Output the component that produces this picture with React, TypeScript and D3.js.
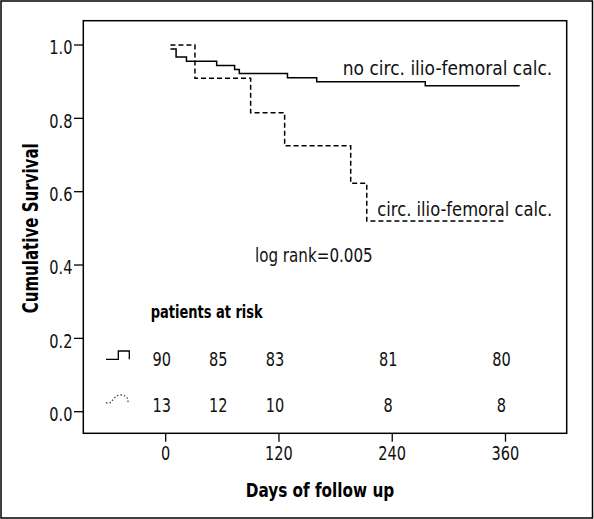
import React from "react";
import * as d3 from "d3";

// ---- data ----
const noCalcTimes = [5, 11, 22, 54, 73, 78, 129, 160, 275];
const noCalcSurv = [0.989, 0.967, 0.956, 0.944, 0.933, 0.922, 0.911, 0.9, 0.889];
const noCalcEnd = 375;

const calcTimes = [5, 31, 90, 126, 196, 213];
const calcSurv = [1.0, 0.909, 0.815, 0.725, 0.623, 0.52];
const calcEnd = 360;

const xTicks = [0, 120, 240, 360];
const yTicks = [0, 0.2, 0.4, 0.6, 0.8, 1.0];

const atRiskDays = [0, 60, 120, 240, 360];
const atRiskNoCalc = [90, 85, 83, 81, 80];
const atRiskCalc = [13, 12, 10, 8, 8];

const labelNoCalc = "no circ. ilio-femoral calc.";
const labelCalc = "circ. ilio-femoral calc.";
const logRankText = "log rank=0.005";
const xTitle = "Days of follow up";
const yTitle = "Cumulative Survival";
const atRiskTitle = "patients at risk";

const FONT = "'Liberation Sans Narrow', 'Arial Narrow', 'DejaVu Sans Condensed', sans-serif";
const NUM_SX = 0.83;

function stepPath(times: number[], surv: number[], end: number, x: d3.ScaleLinear<number, number>, y: d3.ScaleLinear<number, number>) {
  const pts: [number, number][] = times.map((t, i) => [x(t), y(surv[i])]);
  pts.push([x(end), y(surv[surv.length - 1])]);
  const line = d3.line().curve(d3.curveStepAfter);
  return line(pts) || "";
}

function Num({ x, y, anchor, size, children }: { x: number; y: number; anchor: string; size: number; children: React.ReactNode }) {
  return (
    <text transform={`translate(${x},${y}) scale(${NUM_SX},1)`} textAnchor={anchor} fontSize={size} fill="#111">
      {children}
    </text>
  );
}

export default function App() {
  const W = 594, H = 519;
  const frame = { left: 83.3, top: 20.7, right: 566.7, bottom: 433.3 };
  const x = d3.scaleLinear().domain([0, 360]).range([165.7, 505.5]);
  const y = d3.scaleLinear().domain([0, 1]).range([411.7, 45]);

  const fs = 19.5;
  return (
    <svg width={W} height={H} style={{ position: "absolute", left: 0, top: 0, background: "#fff" }} fontFamily={FONT}>
      <rect x={0} y={0} width={W} height={H} fill="#fff" />
      <rect x={1} y={1} width={591.5} height={517} fill="none" stroke="#000" strokeWidth={1.5} />
      <rect x={frame.left} y={frame.top} width={frame.right - frame.left} height={frame.bottom - frame.top} fill="none" stroke="#000" strokeWidth={1.5} />

      {/* y axis */}
      {yTicks.map((t) => (
        <g key={t}>
          <line x1={74} x2={frame.left} y1={y(t)} y2={y(t)} stroke="#000" strokeWidth={1.3} />
          <Num x={72.5} y={y(t) + 9.3} anchor="end" size={fs}>{t.toFixed(1)}</Num>
        </g>
      ))}
      {/* x axis */}
      {xTicks.map((t) => (
        <g key={t}>
          <line x1={x(t)} x2={x(t)} y1={frame.bottom} y2={441.7} stroke="#000" strokeWidth={1.3} />
          <Num x={x(t)} y={460} anchor="middle" size={fs}>{t}</Num>
        </g>
      ))}
      <text x={320} y={496.7} textAnchor="middle" fontSize={20} fontWeight="bold" fill="#000" textLength={148.5} lengthAdjust="spacingAndGlyphs">{xTitle}</text>
      <text transform="translate(38,228.3) rotate(-90)" textAnchor="middle" fontSize={21} fontWeight="bold" fill="#000" textLength={170} lengthAdjust="spacingAndGlyphs">{yTitle}</text>

      {/* curves */}
      <path d={stepPath(noCalcTimes, noCalcSurv, noCalcEnd, x, y)} fill="none" stroke="#000" strokeWidth={1.5} />
      <path d={stepPath(calcTimes, calcSurv, calcEnd, x, y)} fill="none" stroke="#000" strokeWidth={1.5} strokeDasharray="5,3" />

      <text x={342.7} y={75} fontSize={fs} fill="#111" textLength={209.6} lengthAdjust="spacingAndGlyphs">{labelNoCalc}</text>
      <text x={377.3} y={215.7} fontSize={fs} fill="#111" textLength={175} lengthAdjust="spacingAndGlyphs">{labelCalc}</text>
      <text x={255} y={261.7} fontSize={fs} fill="#111" textLength={117.7} lengthAdjust="spacingAndGlyphs">{logRankText}</text>

      {/* at risk table */}
      <text x={150.7} y={318.3} fontSize={18} fontWeight="bold" fill="#000" textLength={112} lengthAdjust="spacingAndGlyphs">{atRiskTitle}</text>
      <path d="M106,359.3 H118.3 V351 H129.3 V359.3" fill="none" stroke="#000" strokeWidth={1.3} />
      <path d="M106,403 L111,402.5 L113.5,399 Q117,394.5 121.5,395 Q126.5,395.5 128,399.5 L128,403" fill="none" stroke="#444" strokeWidth={1.3} strokeDasharray="1.5,2" />
      {atRiskDays.map((d, i) => (
        <g key={d}>
          <Num x={x(d) - 4} y={366} anchor="middle" size={fs}>{atRiskNoCalc[i]}</Num>
          <Num x={x(d) - 4} y={412} anchor="middle" size={fs}>{atRiskCalc[i]}</Num>
        </g>
      ))}
    </svg>
  );
}
